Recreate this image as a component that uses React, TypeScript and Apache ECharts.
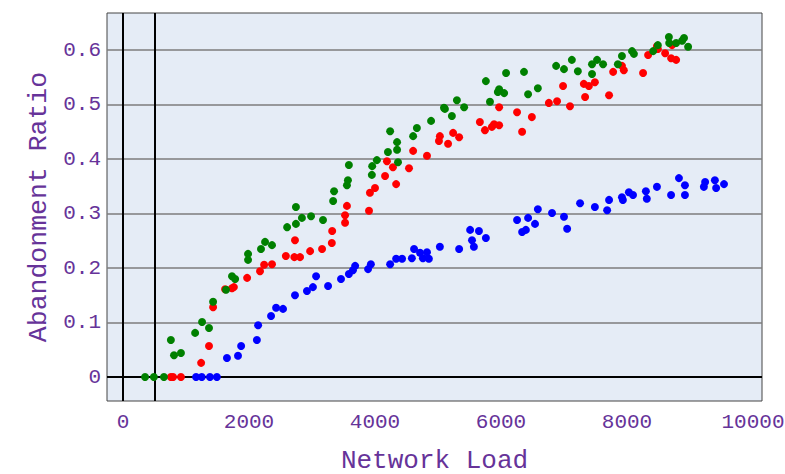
import React, { useEffect, useRef } from "react";
import * as echarts from "echarts";

const xTicks = [0, 2000, 4000, 6000, 8000, 10000];
const yTicks = [0, 0.1, 0.2, 0.3, 0.4, 0.5, 0.6];
const vLines = [0, 500];

const blueSeries = [
  [1160, 0], [1250, 0], [1380, 0], [1490, 0],
  [1650, 0.035], [1825, 0.039], [1875, 0.057], [2125, 0.068], [2145, 0.095], [2350, 0.112],
  [2430, 0.127], [2540, 0.125], [2730, 0.15], [2920, 0.158], [3015, 0.165], [3065, 0.185],
  [3255, 0.167], [3460, 0.18], [3585, 0.189], [3650, 0.196], [3685, 0.204], [3890, 0.198],
  [3935, 0.207], [4240, 0.207], [4335, 0.217], [4430, 0.217], [4585, 0.218], [4620, 0.235],
  [4715, 0.228], [4760, 0.218], [4825, 0.229], [4855, 0.217], [5030, 0.239], [5335, 0.235],
  [5510, 0.27], [5540, 0.251], [5570, 0.239], [5650, 0.268], [5760, 0.255], [6255, 0.288],
  [6335, 0.266], [6395, 0.27], [6430, 0.292], [6540, 0.281], [6585, 0.308], [6810, 0.301],
  [7000, 0.294], [7050, 0.272], [7255, 0.319], [7490, 0.312], [7685, 0.306], [7715, 0.325],
  [7920, 0.33], [7935, 0.325], [8030, 0.339], [8095, 0.334], [8300, 0.341], [8315, 0.327],
  [8475, 0.349], [8700, 0.334], [8825, 0.365], [8920, 0.352], [8920, 0.334], [9220, 0.349],
  [9240, 0.358], [9395, 0.361], [9415, 0.347], [9540, 0.354],
];

const redSeries = [
  [760, 0], [795, 0], [920, 0], [1240, 0.026], [1365, 0.057], [1430, 0.128], [1620, 0.161],
  [1730, 0.163], [1760, 0.165], [1970, 0.182], [2175, 0.194], [2240, 0.206], [2365, 0.207],
  [2585, 0.222], [2730, 0.251], [2720, 0.22], [2810, 0.22], [2970, 0.231], [3160, 0.235],
  [3315, 0.246], [3320, 0.268], [3525, 0.283], [3525, 0.297], [3555, 0.314], [3905, 0.305],
  [3920, 0.338], [4000, 0.347], [4160, 0.369], [4190, 0.396], [4285, 0.385], [4335, 0.354],
  [4540, 0.383], [4605, 0.415], [4825, 0.406], [5015, 0.433], [5030, 0.442], [5160, 0.428],
  [5240, 0.448], [5335, 0.44], [5665, 0.468], [5745, 0.453], [5855, 0.459], [5890, 0.464],
  [5970, 0.462], [5970, 0.495], [6255, 0.486], [6335, 0.45], [6490, 0.477], [6760, 0.503],
  [6890, 0.506], [7095, 0.497], [6985, 0.534], [7315, 0.538], [7395, 0.534], [7490, 0.541],
  [7335, 0.514], [7715, 0.517], [7780, 0.56], [7920, 0.571], [7950, 0.563], [8255, 0.558],
  [8335, 0.591], [8475, 0.607], [8490, 0.602], [8605, 0.594], [8715, 0.609], [8700, 0.585],
  [8780, 0.582],
];

const greenSeries = [
  [350, 0], [490, 0], [650, 0], [760, 0.068], [810, 0.04], [920, 0.044], [1145, 0.081],
  [1255, 0.101], [1365, 0.09], [1430, 0.138], [1635, 0.16], [1730, 0.185], [1780, 0.18],
  [1985, 0.215], [1985, 0.226], [2190, 0.235], [2255, 0.248], [2365, 0.242], [2605, 0.275],
  [2745, 0.281], [2745, 0.312], [2840, 0.292], [2985, 0.295], [3175, 0.288], [3335, 0.323],
  [3350, 0.341], [3555, 0.352], [3570, 0.361], [3585, 0.389], [3950, 0.371], [3955, 0.387],
  [4030, 0.398], [4205, 0.413], [4240, 0.451], [4350, 0.417], [4350, 0.431], [4365, 0.394],
  [4605, 0.442], [4665, 0.457], [4890, 0.47], [5095, 0.494], [5110, 0.492], [5220, 0.479],
  [5300, 0.508], [5415, 0.495], [5760, 0.543], [5825, 0.505], [5950, 0.523], [5970, 0.528],
  [6050, 0.521], [6080, 0.558], [6365, 0.56], [6430, 0.519], [6585, 0.53], [6875, 0.571],
  [7000, 0.565], [7125, 0.582], [7220, 0.561], [7445, 0.574], [7445, 0.556], [7525, 0.582],
  [7620, 0.574], [7855, 0.574], [7920, 0.589], [8080, 0.598], [8110, 0.593], [8415, 0.598],
  [8490, 0.609], [8665, 0.624], [8670, 0.613], [8780, 0.613], [8875, 0.617], [8905, 0.622],
  [8970, 0.606],
];

const textColor = "#663399";
const font = "'Liberation Mono', 'Courier New', monospace";

export default function App() {
  const ref = useRef<HTMLDivElement>(null);
  useEffect(() => {
    document.body.style.margin = "0";
    const chart = echarts.init(ref.current!, null, { renderer: "svg" });
    const lines: any[] = [
      ...yTicks
        .filter((v) => v !== 0)
        .map((v) => ({ yAxis: v, lineStyle: { color: "#7d7d7d", width: 1.5, type: "solid" } })),
      { yAxis: 0, lineStyle: { color: "#000", width: 2, type: "solid" } },
      ...vLines.map((v) => ({ xAxis: v, lineStyle: { color: "#000", width: 2, type: "solid" } })),
    ];
    chart.setOption({
      animation: false,
      grid: {
        left: 107,
        right: 23,
        top: 13,
        bottom: 73,
        outerBoundsMode: "none",
        containLabel: false,
        show: true,
        backgroundColor: "#E5ECF6",
        borderColor: "#444",
        borderWidth: 1,
      },
      xAxis: {
        type: "value",
        min: -254,
        max: 10143,
        axisLine: { show: false },
        axisTick: { show: false },
        splitLine: { show: false },
        axisLabel: {
          customValues: xTicks,
          formatter: (v: number) => String(v),
          color: textColor,
          fontFamily: font,
          fontSize: 21,
          margin: 11,
        },
        name: "Network Load",
        nameLocation: "middle",
        nameGap: 46.5,
        nameTextStyle: { color: textColor, fontFamily: font, fontSize: 26, lineHeight: 26 },
      },
      yAxis: {
        type: "value",
        min: -0.044,
        max: 0.668,
        axisLine: { show: false },
        axisTick: { show: false },
        splitLine: { show: false },
        axisLabel: {
          customValues: yTicks,
          formatter: (v: number) => String(v),
          color: textColor,
          fontFamily: font,
          fontSize: 21,
          margin: 6,
        },
        name: "Abandonment Ratio",
        nameLocation: "middle",
        nameGap: 54,
        nameTextStyle: { color: textColor, fontFamily: font, fontSize: 26.5 },
      },
      series: [
        {
          type: "scatter",
          data: blueSeries,
          symbolSize: 8,
          itemStyle: { color: "#0000ff", opacity: 1 },
          markLine: {
            silent: true,
            symbol: "none",
            z: 1,
            label: { show: false },
            emphasis: { disabled: true },
            data: lines,
          },
        },
        {
          type: "scatter",
          data: redSeries,
          symbolSize: 8,
          itemStyle: { color: "#ff0000", opacity: 1 },
        },
        {
          type: "scatter",
          data: greenSeries,
          symbolSize: 8,
          itemStyle: { color: "#008000", opacity: 1 },
        },
      ],
    });
    return () => chart.dispose();
  }, []);
  return <div ref={ref} style={{ width: 785, height: 474 }} />;
}
